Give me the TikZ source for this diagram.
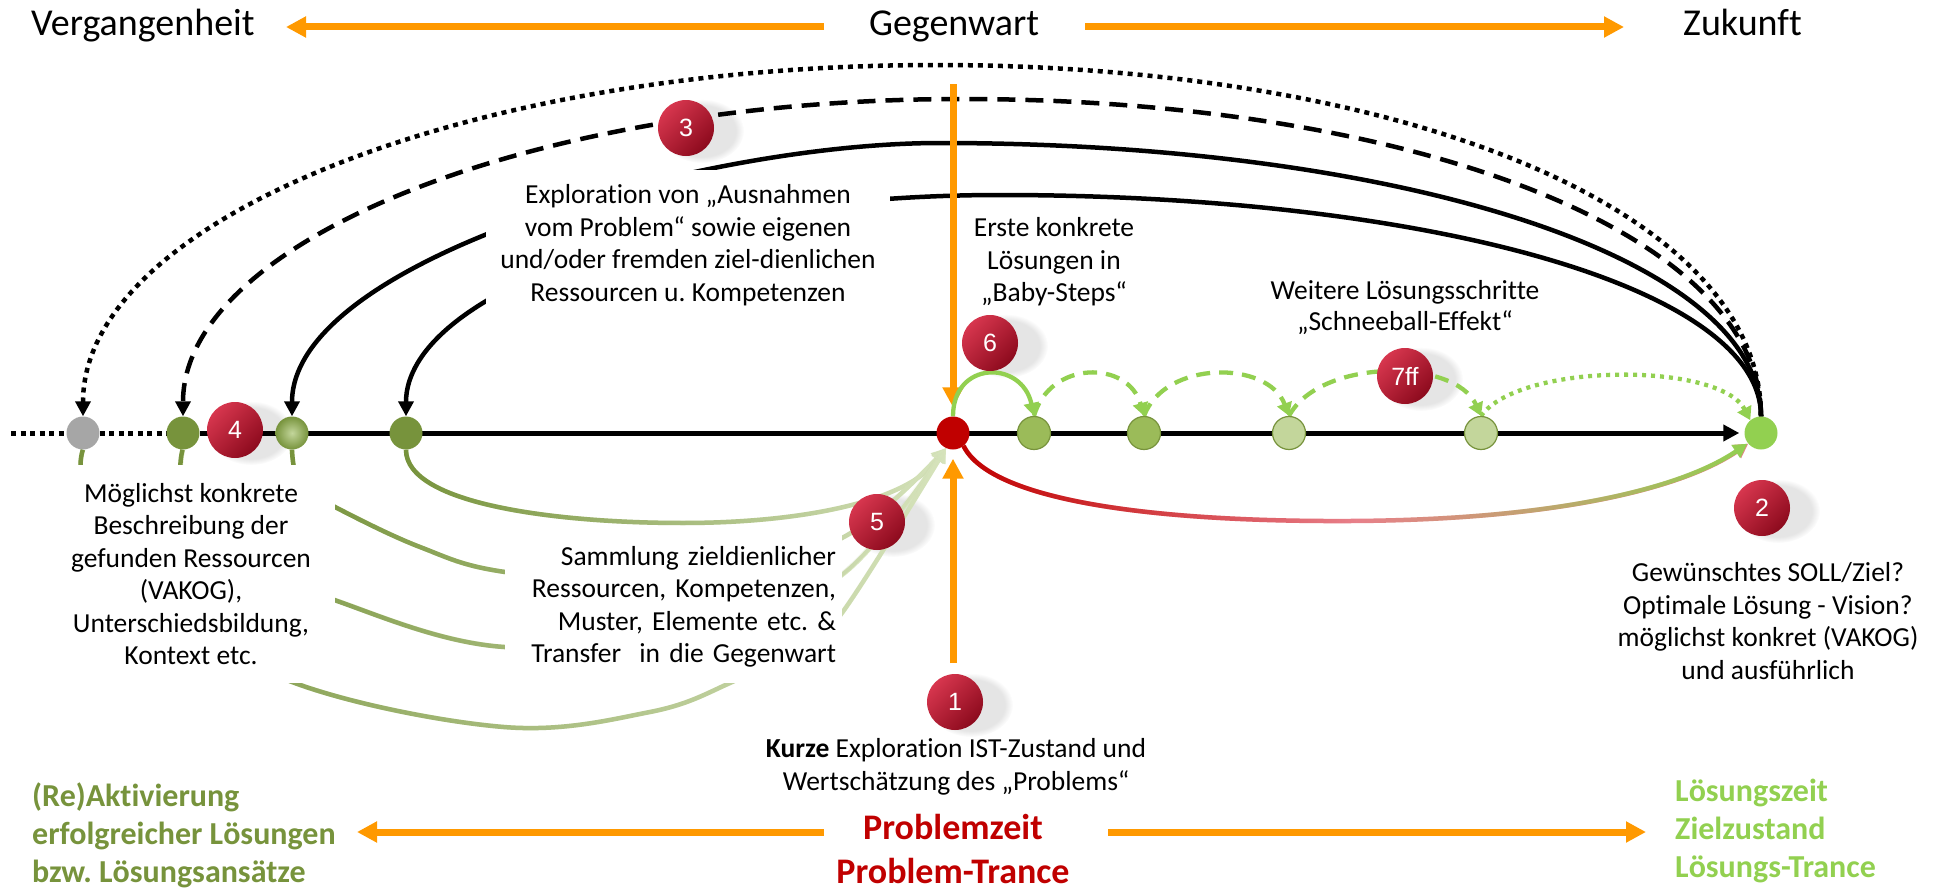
\documentclass[tikz,border=0pt]{standalone}
\usepackage{fontspec}
\setmainfont{Carlito}[Ligatures={NoCommon}]
\newfontfamily\badgefont{Liberation Sans}
\usetikzlibrary{arrows.meta,fadings}
\tikzfading[name=fadeR, left color=transparent!0, right color=transparent!100]
\tikzfading[name=fadeHalf, left color=transparent!0, right color=transparent!100, middle color=transparent!100]
\tikzfading[name=fadeG, left color=transparent!100, right color=transparent!0, middle color=transparent!100]
\pgfdeclarelayer{bg}
\pgfsetlayers{bg,main}
\definecolor{orng}{HTML}{FF9900}
\definecolor{oliveG}{HTML}{77933C}
\definecolor{oliveM}{HTML}{9BBB59}
\definecolor{oliveP}{HTML}{C3D69B}
\definecolor{paleL}{HTML}{D7E4BD}
\definecolor{lgreen}{HTML}{92D050}
\definecolor{dred}{HTML}{C00000}
\definecolor{pinkc}{HTML}{E8808A}
\definecolor{bTop}{HTML}{D7364E}
\definecolor{bBot}{HTML}{8C0A1D}
\definecolor{grayN}{HTML}{A6A6A6}
\begin{document}
\frenchspacing
\begin{tikzpicture}[x=1pt,y=-1pt,
  txt/.style={font=\fontsize{27.5}{32.5}\selectfont, align=center, inner sep=0pt},
  bigt/.style={font=\fontsize{38}{42}\selectfont, inner sep=0pt},
  badge/.style={circle, minimum size=56pt, inner sep=0pt, top color=bTop, bottom color=bBot, shading angle=45, text=white, font=\badgefont\fontsize{25}{25}\selectfont},
  bshadow/.style={fill=black, opacity=0.10, path fading=circle with fuzzy edge 20 percent},
  axn/.style={circle, minimum size=33pt, inner sep=0pt},
  stepn/.style={axn, draw=oliveG, line width=1.2pt},
  oline/.style={orng, line width=7pt, -{Triangle[length=20pt,width=20pt]}},
  blk/.style={line width=4.5pt, -{Triangle[length=15pt,width=15pt]}},
  garc/.style={line width=4.5pt, -{Triangle[length=14pt,width=15pt]}},
  gstep/.style={lgreen, line width=4.3pt, -{Triangle[length=13pt,width=15pt]}},
  ]
\useasboundingbox (0,0) rectangle (1943,891);

% ---------- top labels ----------
\node[bigt, anchor=base west] (verg) at (31,36) {Vergangenheit};
\node[bigt, anchor=base] (gegen) at (954,36) {Gegenwart};
\node[bigt, anchor=base west] (zuk) at (1683,36) {Zukunft};

% ---------- axis nodes ----------
\node[axn, fill=grayN] (gr) at (83,433) {};
\node[axn, fill=oliveG] (g1) at (183,433) {};
\node[axn, inner color=oliveP, outer color=oliveG] (g2) at (292,433) {};
\node[axn, fill=oliveG] (g3) at (406,433) {};
\node[axn, fill=dred] (red) at (953,433) {};
\node[stepn, fill=oliveM] (n1) at (1034,433) {};
\node[stepn, fill=oliveM] (n2) at (1144,433) {};
\node[stepn, fill=oliveP] (n3) at (1289,433) {};
\node[stepn, fill=oliveP] (n4) at (1481,433) {};
\node[axn, fill=lgreen] (fin) at (1761,433) {};

% ---------- badges ----------
\node[badge] (b1) at (955,702) {1};
\node[badge] (b2) at (1762,508) {2};
\node[badge] (b3) at (686,128) {3};
\node[badge] (b4) at (235,430) {4};
\node[badge] (b5) at (877,522) {5};
\node[badge] (b6) at (990,343) {6};
\node[badge] (b7) at (1405,376) {7ff};

% ---------- free texts ----------
\node[txt] (erste) at (1054,262) {Erste konkrete\\Lösungen in\\„Baby-Steps“};
\node[txt, font=\fontsize{27.5}{31}\selectfont] (weit) at (1405,308) {Weitere Lösungsschritte\\„Schneeball-Effekt“};
\node[txt] (kurze) at (956,767) {\textbf{Kurze} Exploration IST-Zustand und\\Wertschätzung des „Problems“};
\node[txt] (gew) at (1768,621) {Gewünschtes SOLL/Ziel?\\Optimale Lösung - Vision?\\möglichst konkret (VAKOG)\\und ausführlich};
\node[font=\bfseries\fontsize{32}{38}\selectfont, text=oliveG, align=left, anchor=west, inner sep=0pt] (reak) at (32,835) {(Re)Aktivierung\\erfolgreicher Lösungen\\bzw. Lösungsansätze};
\node[font=\bfseries\fontsize{36}{44}\selectfont, text=dred, align=center, inner sep=0pt] (probz) at (953,849) {Problemzeit\\Problem-Trance};
\node[font=\bfseries\fontsize{32}{38}\selectfont, text=lgreen, align=left, anchor=west, inner sep=0pt] (loesz) at (1675,831) {Lösungszeit\\Zielzustand\\Lösungs-Trance};

% ---------- arrow end points ----------
\coordinate (tLs) at (824,27);
\coordinate (tLe) at (286,27);
\coordinate (tRs) at (1085,27);
\coordinate (tRe) at (1624,27);
\coordinate (bLs) at (824,832);
\coordinate (bLe) at (357,832);
\coordinate (bRs) at (1108,832);
\coordinate (bRe) at (1646,832);
\coordinate (vtop) at (953,84);
\coordinate (vbot) at (953,663);
\coordinate (axs) at (11,433);

\begin{pgfonlayer}{bg}
% soft badge shadows
\foreach \b in {b1,b2,b3,b4,b5,b6,b7}
  \fill[bshadow] ([xshift=16pt,yshift=-3pt]\b.center) circle [x radius=42pt, y radius=32pt];

% big black arcs from the goal back into the past
\draw[blk, dash pattern=on 5pt off 5pt] (fin.north) .. controls (1761,205) and (1391,65) .. (936,65) .. controls (465,65) and (83,221) .. (gr.north);
\draw[blk, dash pattern=on 18pt off 10pt] (fin.north) .. controls (1761,230) and (1403,99) .. (962,99) .. controls (532,99) and (183,241) .. (g1.north);
\draw[blk] (fin.north) .. controls (1761,255) and (1393,143) .. (940,143) .. controls (700,143) and (292,260) .. (g2.north);
\draw[blk] (fin.north) .. controls (1761,285) and (1420,195) .. (1000,195) .. controls (672,195) and (406,294) .. (g3.north);
\node[txt, fill=white, minimum width=404pt, minimum height=150pt] (expl) at (688,245) {Exploration von „Ausnahmen\\vom Problem“ sowie eigenen\\und/oder fremden ziel-dienlichen\\Ressourcen u. Kompetenzen};

% green transfer arcs into the present
\draw[garc, paleL, postaction={draw, oliveG, path fading=fadeR}] (g3.south) .. controls (406,505) and (560,523) .. (683,523) .. controls (790,523) and (905,505) .. (red.-115);
\draw[garc, paleL, postaction={draw, oliveG, path fading=fadeR}] plot[smooth, tension=0.6] coordinates {(g2.south) (300,485) (335,507) (420,547) (505,572) (680,585) (842,538) (red.-115)};
\draw[garc, paleL, postaction={draw, oliveG, path fading=fadeR}] plot[smooth, tension=0.6] coordinates {(g1.south) (186,490) (240,555) (335,600) (505,647) (710,625) (842,575) (red.-115)};
\draw[garc, paleL, postaction={draw, oliveG, path fading=fadeR}] plot[smooth, tension=0.6] coordinates {(gr.south) (88,495) (160,600) (295,683) (504,727) (650,712) (730,683) (800,645) (842,613) (red.-115)};
\node[txt, fill=white, minimum width=288pt, minimum height=218pt] (moegl) at (191,574) {Möglichst konkrete\\Beschreibung der\\gefunden Ressourcen\\(VAKOG),\\Unterschiedsbildung,\\Kontext etc.};
\node[txt, align=right, fill=white, text width=325pt, inner xsep=6pt, minimum height=152pt] (samml) at (673.5,607) {Sammlung zieldienlicher\\Ressourcen, Kompetenzen,\\Muster, Elemente etc. \&\\Transfer\ \ in die Gegenwart};

% red -> green arc
\draw[garc, pinkc, postaction={draw, lgreen, path fading=fadeG}, postaction={draw, dred, path fading=fadeHalf}] (red.-50) .. controls (990,500) and (1150,522) .. (1350,521) .. controls (1550,520) and (1680,490) .. (fin.-140);

% time axis
\draw[line width=5pt, dash pattern=on 5pt off 4.5pt] (axs) -- (gr) -- (g1);
\draw[line width=5pt, -{Triangle[length=16pt,width=16pt]}, shorten >=5pt] (g1) -- (fin);

% orange arrows
\draw[oline] (tLs) -- (tLe);
\draw[oline] (tRs) -- (tRe);
\draw[oline] (bLs) -- (bLe);
\draw[oline] (bRs) -- (bRe);
\draw[oline, shorten >=9pt] (vtop) -- (red);
\draw[oline, shorten >=9pt] (vbot) -- (red);

% baby steps
\draw[gstep] (red.north) .. controls (953,360) and (1022,360) .. (n1.north);
\draw[gstep, dash pattern=on 14pt off 9pt] (n1.north) .. controls (1050,360) and (1128,360) .. (n2.north);
\draw[gstep, dash pattern=on 14pt off 9pt] (n2.north) .. controls (1165,360) and (1268,360) .. (n3.north);
\draw[gstep, dash pattern=on 14pt off 9pt] (n3.north) .. controls (1320,358) and (1455,358) .. (n4.north);
\draw[gstep, dash pattern=on 4pt off 5pt] (n4.north) .. controls (1520,362) and (1720,362) .. (fin.130);
\end{pgfonlayer}
\end{tikzpicture}
\end{document}
